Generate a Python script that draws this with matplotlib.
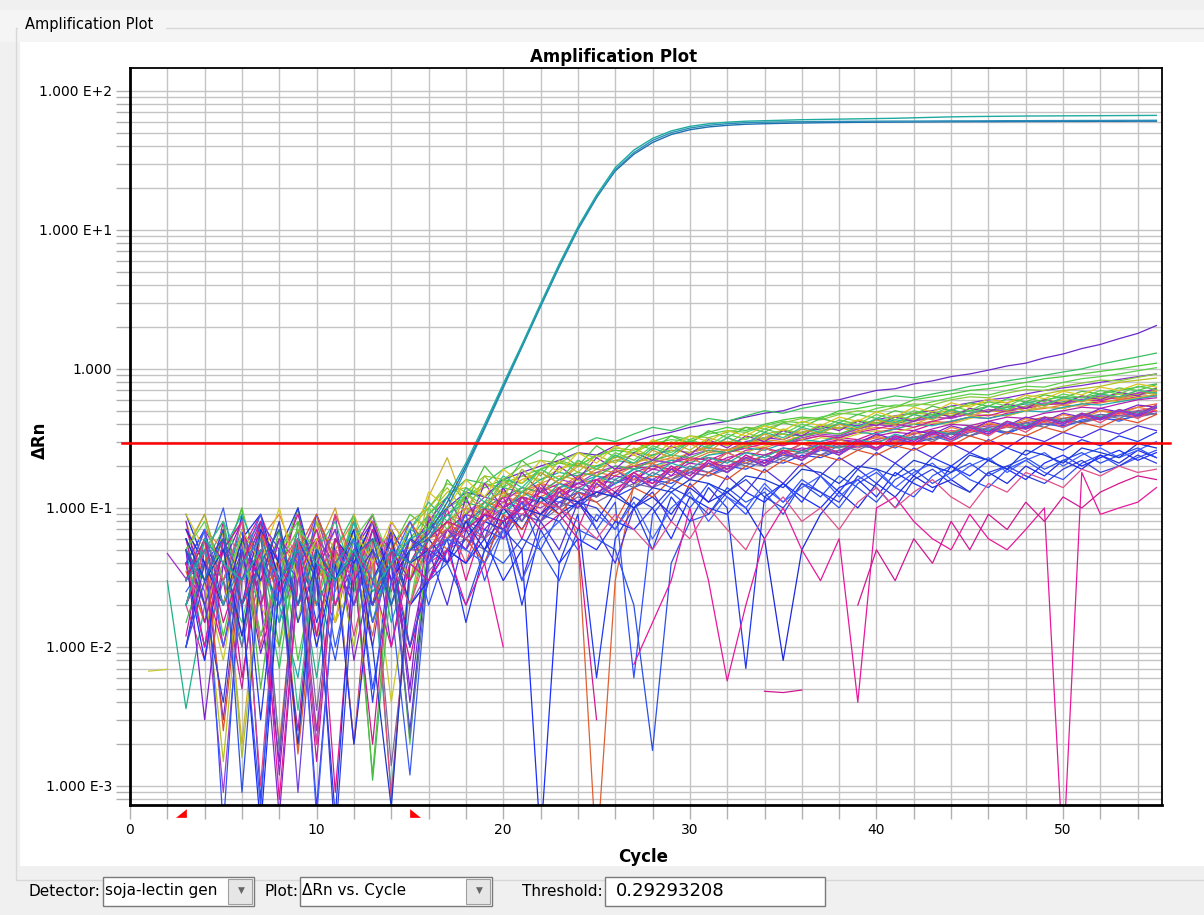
import numpy as np
import matplotlib
matplotlib.use("Agg")
import matplotlib.pyplot as plt
import matplotlib.transforms as mtransforms
from matplotlib.patches import Rectangle
from matplotlib.ticker import FixedLocator, FixedFormatter, MultipleLocator, NullFormatter

nan = float("nan")

# cycle numbers and run settings
cycles = np.arange(1, 56)
threshold = 0.29293208
baseline_start = 3
baseline_end = 15
detector = "soja-lectin gen"
plot_kind = "\u0394Rn vs. Cycle"

y_major = [1e-3, 1e-2, 1e-1, 1, 10, 100]
y_labels = ["1.000 E-3", "1.000 E-2", "1.000 E-1", "1.000", "1.000 E+1", "1.000 E+2"]
x_major = [0, 10, 20, 30, 40, 50]

# dRn per well, cycles 1..55 (nan = no value / negative)
pos_1 = [nan, nan, .03, .05, .02, .04, .06, .03, .05, .02, .04, .06, .03, .05, .04,
         .06, .1, .19, .37, .73, 1.43, 2.8, 5.4, 10, 17, 27, 36, 44, 50, 54, 56.5, 58, 59, 59.5, 59.8,
         60, 60.2, 60.3, 60.4, 60.5, 60.6, 60.6, 60.7, 60.8, 60.8, 60.9, 61, 61, 61.1, 61.1, 61.2, 61.2, 61.3, 61.3, 61.4]
pos_2 = [nan, nan, .05, .03, .06, .02, .04, .07, .02, .05, .03, .045, .06, .02, .05,
         .065, .11, .2, .38, .75, 1.45, 2.85, 5.5, 10.2, 17.2, 26.5, 35, 42.5, 48.5, 52.5, 55, 56.5, 57.5, 58, 58.4,
         58.7, 59, 59.2, 59.4, 59.5, 59.6, 59.7, 59.8, 59.9, 60, 60, 60.1, 60.2, 60.2, 60.3, 60.3, 60.4, 60.4, 60.5, 60.5]
pos_3 = [nan, nan, .02, .06, .04, .03, .05, .015, .06, .04, .03, .05, .025, .04, .06,
         .07, .12, .21, .4, .78, 1.5, 2.95, 5.7, 10.5, 17.8, 28, 37.5, 45.5, 51.5, 55.5, 58, 59.5, 60.5, 61, 61.5,
         62, 62.3, 62.6, 62.9, 63.2, 63.5, 64, 64.5, 65, 65.3, 65.5, 65.7, 65.9, 66, 66.1, 66.2, 66.3, 66.4, 66.5, 66.6]

well_A1 = [nan, nan, .03, .06, .012, .05, .02, .07, .008, .04, .03, .09, .015, .05, .02,
           .06, .09, .12, .14, .16, .15, .19, .21, .2, .24, .26, .25, .3, .33, .31, .35, .38, .36, .4, .43,
           .45, .44, .5, .52, .55, .53, .6, .63, .66, .7, .72, .76, .8, .85, .88, .92, .96, 1.0, 1.05, 1.1]
well_A2 = [nan, nan, .05, .02, .08, .006, .04, .03, .1, .012, .05, .002, .06, .03, .008,
           .04, .07, .05, .09, .11, .1, .13, .12, .15, .16, .15, .18, .2, .19, .22, .23, .22, .26, .27, .25,
           .29, .3, .32, .31, .35, .37, .36, .4, .42, .45, .44, .48, .5, .53, .52, .56, .58, .6, .63, .65]
well_A3 = [nan, nan, .02, .04, .003, .05, .025, .0006, .03, .06, .02, .04, .01, .07, .004,
           .05, .06, .08, .07, .1, .12, .11, .14, .16, .15, .19, .2, .22, .21, .25, .27, .26, .3, .32, .31,
           .35, .37, .4, .39, .43, .46, .48, .5, .54, .57, .6, .62, .66, .7, .73, .76, .8, .84, .88, .92]
well_A4 = [nan, nan, .04, .015, .07, .03, .05, .002, .045, .08, .025, .06, .015, .04, .03,
           .06, .08, .1, .09, .12, .13, .15, .14, .17, .18, .17, .2, .21, .23, .22, .25, .26, .28, .27, .3,
           .31, .33, .32, .36, .38, .37, .4, .42, .41, .45, .47, .46, .5, .52, .55, .54, .57, .6, .62, .64]
well_A5 = [nan, nan, .06, .03, .0015, .04, .07, .02, .05, .01, .06, .03, .09, .02, .05,
           .09, .13, .14, .12, .15, .17, .16, .19, .21, .2, .23, .25, .24, .27, .29, .3, .28, .32, .34, .36,
           .35, .38, .4, .42, .41, .45, .48, .47, .51, .55, .58, .57, .62, .66, .7, .72, .75, .8, .83, .86]
well_A6 = [nan, nan, .01, .05, .02, .09, .0008, .03, .06, .015, .04, .07, .004, .05, .02,
           .03, .05, .04, .07, .06, .09, .08, .11, .1, .13, .12, .14, .16, .15, .18, .17, .2, .19, .22, .21,
           .24, .23, .26, .28, .27, .3, .29, .32, .34, .33, .36, .35, .38, .4, .39, .42, .44, .43, .46, .48]
well_A7 = [nan, .03, .0036, .02, .05, .01, .08, .03, .04, .006, .05, .025, .07, .015, .04,
           .07, .09, .11, .1, .14, .13, .16, .18, .17, .2, .22, .21, .24, .26, .25, .28, .3, .29, .32, .34,
           .33, .36, .38, .37, .4, .43, .42, .46, .48, .5, .49, .53, .56, .55, .58, .6, .63, .62, .65, .68]
well_A8 = [nan, .047, .031, .04, .02, .06, .012, .03, .05, .0025, .04, .02, .06, .03, .01,
           .045, .06, .07, .09, .08, .11, .1, .12, .14, .13, .15, .17, .16, .19, .18, .21, .2, .23, .22, .25,
           .27, .26, .29, .28, .31, .33, .32, .35, .34, .37, .39, .38, .41, .43, .42, .45, .47, .46, .49, .52]
well_A9 = [.0067, .0069, nan, .03, .008, .05, .02, .01, .04, .07, .015, .03, .05, .004, .03,
           .05, .07, .09, .08, .11, .12, .14, .13, .16, .15, .18, .2, .19, .22, .21, .24, .26, .25, .28, .3,
           .29, .32, .31, .34, .36, .35, .38, .41, .4, .44, .47, .46, .5, .53, .52, .56, .6, .58, .62, .66]
well_A10 = [nan, nan, .05, .09, .03, .015, .06, .04, .1, .02, .035, .08, .03, .06, .002,
            .08, .1, .12, .15, .14, .17, .19, .22, .2, .24, .26, .25, .29, .31, .3, .34, .36, .35, .39, .42,
            .41, .45, .48, .47, .52, .55, .54, .58, .62, .66, .65, .7, .75, .74, .8, .85, .88, .92, .97, 1.02]
well_A11 = [nan, nan, .02, .008, .04, .06, .001, .05, .02, .035, .07, .012, .045, .025, .06,
            .04, .05, .07, .06, .08, .1, .09, .11, .13, .12, .14, .16, .15, .17, .19, .18, .2, .22, .21, .24,
            .23, .26, .28, .27, .3, .32, .31, .34, .36, .35, .38, .4, .39, .42, .44, .46, .45, .48, .5, .53]
well_A12 = [nan, nan, .07, .04, .02, .06, .03, .08, .0018, .05, .1, .03, .02, .07, .04,
            .06, .09, .08, .11, .13, .12, .15, .17, .16, .19, .18, .21, .23, .22, .25, .27, .26, .29, .31, .3,
            .33, .35, .34, .37, .4, .39, .42, .45, .44, .48, .5, .49, .53, .56, .55, .59, .62, .61, .65, .69]
well_A13 = [nan, nan, .04, .07, .02, .05, .009, .03, .06, .04, .02, .05, .08, .01, .05,
            .07, .1, .13, .12, .16, .18, .2, .22, .25, .24, .28, .3, .33, .35, .38, .4, .42, .45, .48, .5,
            .55, .58, .6, .65, .7, .72, .78, .82, .88, .92, .98, 1.05, 1.1, 1.2, 1.28, 1.4, 1.5, 1.65, 1.8, 2.05]
well_A14 = [nan, nan, .03, .05, .08, .02, .04, .007, .06, .03, .05, .09, .02, .04, .06,
            .09, .12, .16, .15, .19, .22, .26, .24, .28, .32, .3, .34, .38, .36, .4, .44, .42, .46, .5, .48,
            .52, .55, .58, .56, .6, .64, .62, .66, .7, .75, .78, .82, .86, .9, .95, 1.0, 1.08, 1.15, 1.22, 1.3]
well_A15 = [nan, nan, .05, .01, .03, .07, .04, .02, .006, .05, .03, .08, .04, .0009, .03,
            .05, .06, .08, .1, .09, .12, .11, .14, .15, .17, .16, .19, .2, .22, .21, .24, .25, .27, .26, .29,
            .31, .3, .33, .35, .34, .37, .4, .39, .42, .45, .44, .47, .5, .49, .53, .56, .55, .58, .61, .64]
well_A16 = [nan, nan, .012, .06, .03, .005, .07, .04, .09, .03, .015, .06, .02, .05, .04,
            .07, .05, .08, .1, .12, .11, .13, .15, .14, .16, .18, .2, .19, .21, .23, .22, .25, .27, .29, .28,
            .31, .33, .32, .35, .37, .4, .38, .42, .45, .47, .46, .5, .52, .55, .57, .6, .59, .63, .67, .7]
well_A17 = [nan, nan, .025, .04, .1, .02, .0007, .05, .03, .06, .01, .04, .08, .02, .0012,
            .04, .06, .05, .08, .07, .1, .12, .11, .13, .12, .15, .17, .16, .14, .19, .2, .18, .22, .21, .24,
            .23, .26, .25, .28, .3, .27, .31, .33, .3, .35, .37, .34, .39, .41, .38, .43, .45, .42, .47, .5]
well_A18 = [nan, nan, .035, .015, .05, .08, .02, .045, .0017, .03, .06, .04, .012, .07, .03,
            .06, .07, .09, .11, .1, .13, .12, .14, .06, .0003, .03, .15, .17, .16, .19, .2, .22, .21, .24, .26,
            .25, .28, .27, .3, .32, .31, .34, .36, .35, .38, .4, .39, .42, .45, .44, .47, .5, .49, .53, .56]
well_A19 = [nan, nan, .06, .02, .04, .1, .03, .06, .015, .08, .04, .02, .05, .03, .07,
            .1, .15, .13, .17, .16, .2, .22, .21, .25, .23, .27, .26, .3, .29, .33, .32, .35, .38, .37, .41,
            .44, .43, .47, .5, .49, .53, .56, .55, .6, .63, .62, .67, .71, .7, .75, .79, .83, .82, .87, .92]
well_A20 = [nan, nan, .02, .05, .03, .01, .045, .025, .07, .0035, .04, .02, .05, .0014, .02,
            .035, .05, .06, .05, .07, .09, .08, .1, .12, .11, .13, .15, .14, .16, .18, .17, .19, .21, .2, .23,
            .25, .24, .26, .28, .27, .3, .32, .31, .34, .33, .36, .38, .37, .4, .42, .41, .44, .46, .45, .48]
well_A21 = [nan, nan, .08, .03, .06, .002, .04, .07, .03, .05, .015, .09, .04, .06, .03,
            .12, .23, .1, .15, .13, .16, .18, .15, .2, .19, .22, .24, .21, .26, .25, .28, .3, .27, .32, .34,
            .31, .36, .38, .35, .4, .42, .4, .45, .48, .46, .5, .53, .5, .56, .6, .58, .62, .66, .64, .7]
well_A22 = [nan, nan, .05, .025, .0009, .03, .06, .015, .04, .09, .03, .05, .02, .08, .05,
            .08, .06, .09, .12, .11, .14, .13, .16, .15, .18, .2, .19, .22, .21, .24, .26, .25, .28, .3, .29,
            .32, .34, .33, .37, .4, .38, .42, .45, .44, .48, .51, .5, .54, .57, .56, .6, .64, .63, .67, .72]
well_A23 = [nan, nan, .015, .04, .07, .03, .05, .01, .08, .04, .02, .06, .0011, .03, .07,
            .06, .08, .07, .1, .12, .14, .13, .16, .18, .17, .2, .19, .22, .24, .23, .26, .25, .28, .3, .29,
            .33, .35, .34, .38, .41, .4, .44, .47, .46, .5, .54, .53, .57, .6, .63, .62, .66, .7, .74, .78]
well_A24 = [nan, nan, .03, .07, .04, .012, .05, .03, .0025, .06, .04, .02, .07, .03, .05,
            .05, .07, .09, .08, .1, .12, .11, .13, .15, .14, .17, .16, .19, .18, .21, .2, .23, .25, .24, .27,
            .26, .29, .31, .3, .33, .35, .34, .37, .4, .39, .42, .45, .44, .48, .5, .53, .52, .56, .6, .62]
well_B1 = [nan, nan, .04, .008, .06, .02, .0005, .03, .05, .01, .04, .002, .03, .06, .02,
           .03, .05, .04, .06, .03, .05, .0004, .04, .06, .05, .08, .07, .1, .06, .12, .1, .09, .13, .11, .15,
           .12, .1, .14, .16, .12, .18, .15, .13, .2, .17, .22, .19, .16, .21, .24, .2, .23, .26, .22, .25]
well_B2 = [nan, nan, .01, .03, .07, .0009, .04, .02, .06, .03, .008, .05, .02, .04, .01,
           .03, .04, .02, .05, .04, .06, .05, .03, .07, .06, .05, .02, .0018, .04, .08, .09, .14, .11, .13, .09,
           .15, .12, .17, .14, .11, .16, .19, .15, .18, .21, .17, .2, .23, .19, .22, .25, .21, .24, .27, .23]
well_B3 = [nan, nan, .05, .02, .004, .06, .03, .08, .015, .04, .0004, .03, .05, .02, .06,
           .05, .04, .06, .08, .07, .05, .09, .08, .11, .1, .07, .12, .1, .14, .12, .09, .13, .16, .12, .1,
           .15, .13, .11, .17, .14, .1, .16, .19, .15, .13, .18, .2, .17, .15, .19, .22, .18, .2, .24, .21]
well_B4 = [nan, nan, .03, .07, .01, .04, .09, .02, .05, .0006, .03, .06, .015, .04, .08,
           .04, .06, .05, .04, .07, .03, .06, .08, .05, .09, .07, .11, .06, .1, .13, .08, .12, .1, .15, .11,
           .14, .17, .12, .16, .19, .14, .18, .21, .16, .2, .23, .18, .22, .25, .2, .24, .27, .23, .26, .3]
well_B5 = [nan, nan, .06, .03, .05, .012, .07, .04, .002, .05, .03, .07, .01, .0007, .04,
           .05, .07, .06, .09, .08, .1, .09, .12, .11, .13, .12, .1, .14, .13, .16, .15, .13, .17, .16, .14,
           .19, .18, .15, .2, .19, .17, .22, .2, .18, .24, .22, .19, .26, .24, .21, .27, .25, .23, .29, .27]
well_C1 = [nan, nan, .04, .01, .06, .02, .05, .0008, .03, .07, .02, .05, .03, .01, .04,
           .03, .05, .02, .04, .01, nan, nan, nan, nan, nan, nan, .0075, .015, .03, .1, .03, .0057, .02, .06, .1,
           .05, .03, .06, .004, .1, .12, .08, .06, .05, .09, .06, .05, .07, .1, .0003, .18, .09, .1, .11, .14]
well_C2 = [nan, nan, .02, .05, .03, .08, .01, .04, .06, .002, .05, .03, .08, .04, .02,
           .05, .07, .06, .08, .1, .09, .11, .1, .08, .06, .09, .07, .05, .08, .06, .1, .07, .05, .09, .12,
           .08, .1, .07, .11, .14, .1, .13, .16, .12, .1, .15, .13, .18, .16, .14, .19, .17, .2, .18, .19]
well_C3 = [nan, nan, .03, .06, .015, .04, .08, .025, .05, .012, .06, .035, .002, .05, .03,
           .06, .08, .07, .09, .08, .1, .07, .09, .06, .003, nan, nan, nan, nan, nan, nan, nan, nan, .0048, .0047,
           .0049, nan, nan, .02, .05, .03, .06, .04, .08, .05, .09, .07, .11, .08, .12, .1, .13, .15, .17, .16]
well_D1 = [nan, nan, .05, .003, .04, .08, .02, .0015, .06, .03, .09, .008, .04, .07, .005,
           .09, .04, .12, .06, .14, .08, .15, .1, .17, .12, .19, .15, .21, .17, .23, .2, .25, .22, .27, .24,
           .29, .27, .31, .29, .34, .31, .36, .34, .39, .36, .42, .39, .45, .42, .48, .45, .52, .49, .55, .53]
well_D2 = [nan, nan, .07, .03, .01, .05, .09, .04, .02, .06, .0009, .04, .08, .03, .06,
           .04, .1, .03, .08, .12, .06, .14, .1, .07, .15, .12, .17, .14, .19, .16, .21, .18, .23, .2, .25,
           .22, .27, .24, .29, .27, .31, .29, .34, .31, .36, .34, .39, .37, .42, .4, .45, .43, .48, .46, .5]
well_D3 = [nan, nan, .02, .06, .04, .1, .005, .05, .08, .02, .06, .04, .0012, .05, .09,
           .07, .16, .11, .2, .14, .22, .17, .25, .2, .28, .23, .3, .26, .33, .29, .36, .32, .38, .35, .41,
           .38, .44, .41, .47, .44, .5, .47, .54, .5, .57, .54, .61, .58, .65, .62, .69, .66, .73, .7, .77]
well_D4 = [nan, nan, .09, .04, .02, .07, .003, .05, .1, .03, .0006, .05, .02, .07, .04,
           .03, .06, .015, .05, .08, .02, .07, .04, .09, .006, .06, .1, .05, .12, .08, .14, .1, .007, .12, .15,
           .11, .17, .13, .19, .15, .21, .17, .23, .2, .25, .22, .27, .24, .29, .26, .31, .28, .33, .3, .35]
well_D5 = [nan, nan, .03, .07, .05, .02, .06, .09, .04, .012, .05, .08, .03, .06, .02,
           .07, .05, .1, .08, .13, .1, .15, .12, .17, .14, .19, .16, .21, .18, .23, .2, .25, .22, .27, .24,
           .29, .26, .31, .28, .33, .3, .35, .32, .38, .35, .41, .38, .44, .41, .47, .44, .5, .47, .53, .5]
well_D6 = [nan, nan, .04, .02, .07, .0016, .03, .06, .02, .08, .05, .01, .06, .03, .08,
           .1, .14, .09, .17, .12, .19, .15, .22, .18, .24, .21, .27, .23, .3, .26, .32, .29, .35, .31, .37,
           .34, .4, .37, .43, .4, .46, .43, .49, .46, .52, .49, .56, .53, .6, .57, .64, .61, .68, .65, .72]
well_D7 = [nan, nan, .01, .04, .06, .02, .08, .03, .05, .0007, .03, .06, .02, .04, .0025,
           .05, .02, .07, .04, .09, .03, .08, .05, .11, .07, .04, .1, .13, .08, .15, .11, .17, .13, .19, .15,
           .21, .17, .23, .19, .25, .21, .27, .23, .29, .25, .31, .27, .33, .3, .35, .32, .37, .34, .39, .36]
well_D8 = [nan, nan, .06, .03, .05, .09, .04, .02, .07, .05, .03, .08, .015, .05, .03,
           .06, .09, .07, .11, .09, .13, .11, .15, .13, .17, .15, .19, .17, .21, .19, .23, .21, .25, .23, .27,
           .25, .29, .27, .31, .29, .34, .31, .36, .34, .39, .36, .42, .39, .45, .42, .48, .45, .51, .48, .54]
well_D9 = [nan, nan, .02, .05, .01, .04, .07, .03, .06, .02, .09, .04, .06, .0008, .04,
           .05, .08, .04, .1, .06, .12, .08, .14, .1, .16, .12, .18, .14, .2, .16, .22, .18, .24, .2, .26,
           .22, .28, .24, .3, .26, .32, .28, .35, .3, .37, .33, .4, .35, .43, .38, .46, .41, .49, .44, .52]
well_D10 = [nan, nan, .08, .02, .05, .03, .07, .0012, .04, .06, .02, .05, .09, .03, .05,
            .08, .12, .07, .15, .1, .18, .13, .2, .16, .23, .19, .25, .22, .28, .24, .31, .27, .33, .3, .36,
            .33, .39, .36, .42, .39, .45, .42, .49, .45, .52, .49, .56, .52, .6, .56, .64, .6, .68, .64, .73]
well_D11 = [nan, nan, .05, .09, .03, .06, .01, .04, .07, .03, .05, .002, .04, .07, .03,
            .09, .06, .13, .09, .16, .12, .18, .15, .21, .17, .24, .2, .26, .23, .29, .25, .32, .28, .34, .31,
            .37, .34, .4, .37, .43, .4, .47, .43, .5, .47, .54, .5, .58, .54, .62, .58, .66, .62, .7, .66]
well_D12 = [nan, nan, .04, .07, .0005, .05, .03, .06, .02, .09, .04, .06, .005, .03, .07,
            .02, .05, .09, .03, .07, .11, .05, .09, .13, .07, .11, .006, .09, .13, .1, .15, .12, .09, .14, .11,
            .16, .13, .1, .15, .18, .14, .12, .17, .2, .16, .14, .19, .22, .18, .16, .21, .24, .2, .23, .26]
well_D13 = [nan, nan, .03, .05, .08, .04, .02, .06, .0035, .05, .08, .03, .06, .04, .07,
            .11, .08, .14, .11, .17, .14, .19, .16, .22, .19, .24, .21, .27, .24, .3, .27, .32, .29, .35, .32,
            .38, .35, .41, .38, .44, .41, .47, .44, .51, .47, .54, .51, .58, .55, .62, .59, .66, .63, .7, .67]
well_D14 = [nan, nan, .06, .015, .05, .08, .02, .06, .04, .0015, .05, .03, .07, .05, .01,
            .03, .07, .05, .1, .07, .12, .09, .14, .11, .16, .13, .18, .15, .2, .17, .22, .19, .24, .21, .26,
            .23, .28, .25, .31, .27, .33, .3, .36, .32, .39, .35, .42, .38, .45, .41, .48, .44, .51, .47, .55]
well_D15 = [nan, nan, .02, .06, .03, .05, .08, .0018, .04, .07, .03, .05, .02, .06, .0022,
            .04, .06, .08, .06, .1, .08, .12, .1, .14, .12, .16, .14, .18, .16, .2, .18, .22, .2, .24, .22,
            .26, .24, .28, .26, .3, .28, .33, .3, .35, .33, .38, .35, .41, .38, .44, .41, .47, .44, .5, .47]
well_D16 = [nan, nan, .07, .04, .02, .06, .09, .03, .05, .002, .06, .04, .08, .03, .05,
            .06, .04, .08, .05, .1, .07, .12, .09, .11, .08, .13, .1, .12, .09, .14, .11, .13, .1, .06, .008,
            .05, .09, .13, .1, .15, .12, .17, .14, .16, .13, .18, .15, .2, .17, .22, .19, .24, .21, .26, .23]
well_D17 = [nan, nan, .09, .05, .02, .07, .04, .1, .03, .06, .015, .07, .04, .08, .05,
            .13, .1, .16, .12, .19, .15, .22, .18, .25, .21, .28, .24, .31, .27, .33, .3, .36, .33, .39, .36,
            .42, .39, .45, .42, .49, .45, .53, .49, .57, .53, .61, .57, .65, .61, .69, .65, .74, .7, .78, .74]
well_D18 = [nan, nan, .03, .06, .0025, .04, .07, .02, .05, .09, .04, .06, .02, .05, .08,
            .05, .08, .06, .04, .09, .07, .11, .09, .13, .11, .08, .14, .12, .16, .14, .18, .16, .2, .18, .22,
            .2, .24, .22, .26, .24, .28, .26, .3, .28, .33, .3, .35, .33, .38, .35, .41, .38, .44, .41, .47]
well_D19 = [nan, nan, .05, .08, .03, .06, .012, .04, .07, .05, .02, .06, .09, .04, .02,
            .1, .07, .13, .1, .16, .13, .19, .16, .22, .19, .25, .22, .28, .25, .31, .28, .34, .31, .37, .34,
            .4, .37, .43, .4, .47, .43, .5, .47, .54, .5, .58, .54, .62, .58, .66, .62, .7, .66, .75, .71]
well_D20 = [nan, nan, .04, .01, .06, .03, .08, .05, .0009, .04, .07, .02, .05, .03, .06,
            .04, .07, .05, .09, .06, .11, .08, .13, .1, .15, .12, .17, .14, .19, .16, .21, .18, .23, .2, .25,
            .22, .27, .24, .3, .26, .32, .29, .35, .31, .38, .34, .41, .37, .44, .4, .47, .43, .5, .46, .53]

noise_wells = [
    (well_A1, "#4cc93c"), (well_A2, "#d4148c"), (well_A3, "#7b2fd0"), (well_A4, "#e8743b"),
    (well_A5, "#b5c21f"), (well_A6, "#2244ee"), (well_A7, "#1fb08a"), (well_A8, "#9b30c8"),
    (well_A9, "#c8c832"), (well_A10, "#5ad04a"), (well_A11, "#e0408a"), (well_A12, "#d89a2a"),
    (well_A13, "#6a28c8"), (well_A14, "#38c060"), (well_A15, "#20a8b0"), (well_A16, "#c8209a"),
    (well_A17, "#3a5cf0"), (well_A18, "#e06030"), (well_A19, "#8cc83c"), (well_A20, "#7a6aa0"),
    (well_A21, "#d0b030"), (well_A22, "#a040d0"), (well_A23, "#40b858"), (well_A24, "#b020b0"),
    (well_D1, "#8020d0"), (well_D2, "#e01890"), (well_D3, "#50c040"), (well_D4, "#2038f0"),
    (well_D5, "#e88040"), (well_D6, "#a8c028"), (well_D7, "#4a30e0"), (well_D8, "#18b0a8"),
    (well_D9, "#e84870"), (well_D10, "#9028c0"), (well_D11, "#c8a030"), (well_D12, "#3050ff"),
    (well_D13, "#30c088"), (well_D14, "#c01ca8"), (well_D15, "#6070a0"), (well_D16, "#1c28e0"),
    (well_D17, "#d8c820"), (well_D18, "#e05028"), (well_D19, "#60d050"), (well_D20, "#7040e0"),
    (well_B1, "#1a2cff"), (well_B2, "#2a50e8"), (well_B3, "#3040d8"), (well_B4, "#4060ff"),
    (well_B5, "#1838d0"), (well_C1, "#e8189c"), (well_C2, "#e0508a"), (well_C3, "#d01890"),
]
pos_wells = [(pos_2, "#1f6fb0"), (pos_1, "#2a8fb8"), (pos_3, "#20aaa0")]

W, H = 1204, 915
plt.rcParams["font.family"] = ["DejaVu Sans"]
fig = plt.figure(figsize=(W / 100, H / 100), dpi=100, facecolor="#f0f0f0")


def px_box(x0, y0, x1, y1, **kw):
    fig.add_artist(Rectangle((x0 / W, 1 - y1 / H), (x1 - x0) / W, (y1 - y0) / H,
                             transform=fig.transFigure, **kw))


def px_text(x, y, s, **kw):
    fig.text(x / W, 1 - y / H, s, **kw)


# window frame: header strip, white plot panel, control bar
px_box(0, 10, W, 42, facecolor="#f5f5f5", edgecolor="none", zorder=-10)
px_box(16, 28, W + 5, 880, facecolor="none", edgecolor="#d8d8d8", lw=1, zorder=-9)
px_box(20, 42, W, 866, facecolor="white", edgecolor="none", zorder=-8)
px_box(18, 14, 166, 36, facecolor="#f5f5f5", edgecolor="none", zorder=-7)
px_text(25, 25, "Amplification Plot", fontsize=10.5, va="center", ha="left")

ax = fig.add_axes([130 / W, 1 - 805 / H, (1162 - 130) / W, (805 - 68) / H])
ax.set_facecolor("white")

for vals, col in noise_wells:
    ax.plot(cycles, vals, color=col, lw=0.9)
for vals, col in pos_wells:
    ax.plot(cycles, vals, color=col, lw=1.0)

ax.axhline(threshold, xmin=-0.008, xmax=1.008, color="#ff0000", lw=1.8, clip_on=False, zorder=5)

ax.set_yscale("log")
ax.set_xlim(0, 55.3)
ax.set_ylim(7.3e-4, 146)

ax.xaxis.set_major_locator(FixedLocator(x_major))
ax.xaxis.set_minor_locator(MultipleLocator(2))
ax.yaxis.set_major_locator(FixedLocator(y_major))
ax.yaxis.set_major_formatter(FixedFormatter(y_labels))
y_minor = [m * 10.0 ** e for e in range(-4, 3) for m in range(2, 10)]
ax.yaxis.set_minor_locator(FixedLocator(y_minor))
ax.yaxis.set_minor_formatter(NullFormatter())

ax.grid(True, which="both", color="#c4c4c4", lw=1)
ax.set_axisbelow(True)
ax.tick_params(which="both", direction="out", length=10, width=1, color="#b0b0b0",
               labelsize=10, pad=3)
for side in ["left", "bottom"]:
    ax.spines[side].set_linewidth(2)
for side in ["top", "right"]:
    ax.spines[side].set_linewidth(1.3)

# baseline start / end flags under the axis
flag_tr = mtransforms.blended_transform_factory(ax.transData, ax.transAxes)
ax.plot([baseline_start], [-0.011], marker=[(-2, -0.7), (0, -0.7), (0, 0.7)], ms=15,
        color="#ff0000", mec="#ff0000", mew=0.5, transform=flag_tr, clip_on=False, zorder=10)
ax.plot([baseline_end], [-0.011], marker=[(0, 0.7), (0, -0.7), (2, -0.7)], ms=15,
        color="#ff0000", mec="#ff0000", mew=0.5, transform=flag_tr, clip_on=False, zorder=10)

px_text(614, 57, "Amplification Plot", fontsize=12, fontweight="bold", ha="center", va="center")
px_text(643, 857, "Cycle", fontsize=12, fontweight="bold", ha="center", va="center")
px_text(40, 440, "\u0394Rn", fontsize=12, fontweight="bold", rotation=90, ha="center", va="center")


# control bar
def combo(x0, x1, btn, label):
    px_box(x0, 877, x1, 906, facecolor="white", edgecolor="#7a7a7a", lw=1)
    px_box(btn, 879, x1 - 2, 904, facecolor="#e6e6e6", edgecolor="#a0a0a0", lw=0.8)
    px_text((btn + x1) / 2, 890, "\u25bc", fontsize=6.5, color="#666666", ha="center", va="center")
    px_text(x0 + 2, 891, label, fontsize=11, ha="left", va="center")


px_text(28, 891, "Detector:", fontsize=11, ha="left", va="center")
combo(103, 254, 228, detector)
px_text(264, 891, "Plot:", fontsize=11, ha="left", va="center")
combo(300, 492, 466, plot_kind)
px_text(522, 891, "Threshold:", fontsize=11, ha="left", va="center")
px_box(605, 877, 825, 906, facecolor="white", edgecolor="#7a7a7a", lw=1)
px_text(616, 891, f"{threshold:.8f}", fontsize=13, ha="left", va="center")

fig.savefig("out.png", dpi=100, facecolor=fig.get_facecolor())
